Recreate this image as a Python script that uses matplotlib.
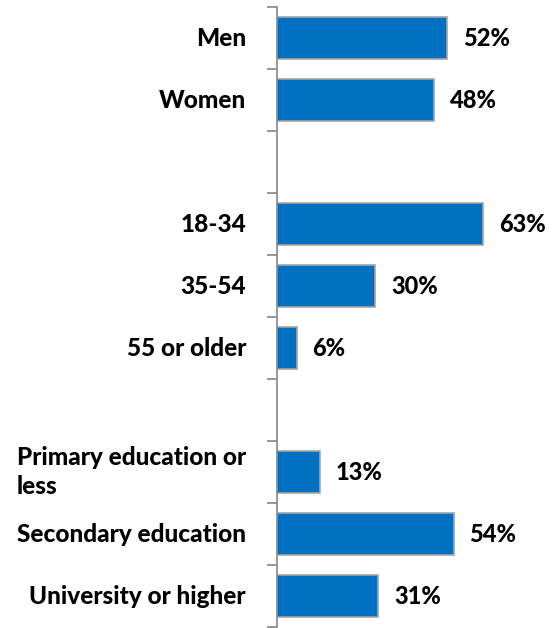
import numpy as np
import matplotlib.pyplot as plt

plt.rcParams['font.family'] = ['Lato', 'DejaVu Sans']

categories = ["Men", "Women", "", "18-34", "35-54", "55 or older", "",
              "Primary education or\nless", "Secondary education", "University or higher"]
values = [52, 48, None, 63, 30, 6, None, 13, 54, 31]

fig = plt.figure(figsize=(5.52, 6.28), dpi=100)
ax = fig.add_axes([277 / 552, 1 / 628, 1 - 277 / 552, 620 / 628])

n = len(categories)
ypos = np.arange(n)
for y, v in zip(ypos, values):
    if v is None:
        continue
    ax.barh(y, v, height=0.69, color="#0070C0", edgecolor="#A6A6A6", linewidth=1.2)
    ax.text(v + 4.8, y, f"{v}%", va="center", ha="left",
            fontsize=17, fontweight="black")

ax.set_ylim(n - 0.5, -0.5)
ax.set_xlim(0, 84)

# tick marks sit on row boundaries, category names in the middle
ax.set_yticks(np.arange(n + 1) - 0.5)
ax.set_yticklabels([])
ax.tick_params(axis="y", length=7, width=1.2, color="#868686")
for y, c in zip(ypos, categories):
    if c:
        ax.text(-9.5, y, c, va="center", ha="right", multialignment="left",
                fontsize=17.6, fontweight="black", linespacing=1.35)

ax.set_xticks([])
for s in ["top", "right", "bottom"]:
    ax.spines[s].set_visible(False)
ax.spines["left"].set_color("#868686")
ax.spines["left"].set_linewidth(1.2)

fig.savefig("out.png", dpi=100)
